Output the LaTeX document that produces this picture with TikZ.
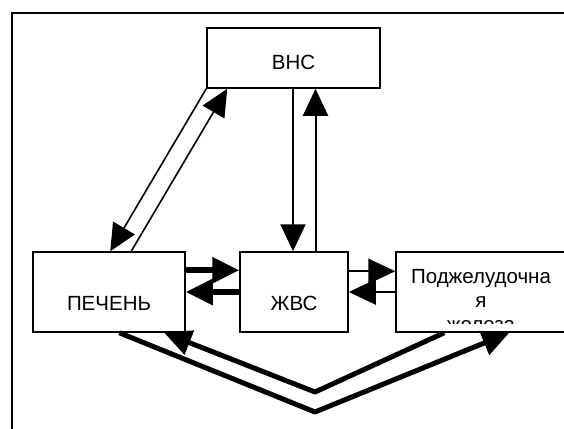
\documentclass[tikz,border=0pt]{standalone}
\usepackage{fontspec}
\setmainfont{Liberation Sans}
\usetikzlibrary{arrows.meta,calc}
\begin{document}
\begin{tikzpicture}[x=1pt,y=-1pt,
  box/.style={draw, line width=1.5pt, inner sep=0pt},
  lbl/.style={font=\fontsize{20.5}{24}\selectfont, inner sep=0pt, anchor=base},
  thinarrow/.style={line width=2pt, -{Triangle[length=27pt,width=25pt]}},
  fatarrow/.style={line width=6pt, -{Triangle[length=27pt,width=25pt]}},
  vline/.style={line width=5pt, line join=bevel, -{Triangle[length=27pt,width=25pt]}}]
\useasboundingbox (0,0) rectangle (564,428);
\draw[line width=1.5pt] (12,440) -- (12,13) -- (580,13);
% boxes
\node[box, minimum width=173pt, minimum height=60pt] (vns) at (293.5,58) {};
\node[box, minimum width=152pt, minimum height=80pt] (pech) at (109,292) {};
\node[box, minimum width=108pt, minimum height=80pt] (zhvs) at (294,292) {};
\node[box, minimum width=170pt, minimum height=80pt] (podzh) at (481,292) {};
% labels
\node[lbl] (tvns) at (293.5,70) {ВНС};
\node[lbl] (tpech) at (109,310) {ПЕЧЕНЬ};
\node[lbl] (tzhvs) at (294,310) {ЖВС};
\begin{scope}
\clip (397,253) rectangle (566,323.5);
\node[lbl] (tp1) at (481,283) {Поджелудочна};
\node[lbl] (tp2) at (481,307) {я};
\node[lbl] (tp3) at (481,331) {железа};
\end{scope}
% ВНС <-> ПЕЧЕНЬ
\draw[thinarrow, line width=1.6pt] (vns.south west) -- ($(pech.north west)+(78,0)$);
\draw[thinarrow, line width=1.6pt] ($(pech.north west)+(99,0)$) -- ($(vns.south west)+(21,0)$);
% ВНС <-> ЖВС
\coordinate (cd) at ($(vns.south)+(-0.5,0)$);
\draw[thinarrow] (cd) -- (cd |- zhvs.north);
\coordinate (cu) at ($(zhvs.north)+(21.5,0)$);
\draw[thinarrow] (cu) -- (cu |- vns.south);
% ПЕЧЕНЬ <-> ЖВС
\coordinate (ph) at ($(pech.north east)+(0,19)$);
\draw[fatarrow] (ph) -- (ph -| zhvs.west);
\draw[fatarrow] (zhvs.west) -- (zhvs.west -| pech.east);
% ЖВС <-> Поджелудочная
\coordinate (zh) at ($(zhvs.north east)+(0,20)$);
\draw[thinarrow] (zh) -- (zh -| podzh.west);
\draw[thinarrow] (podzh.west) -- (podzh.west -| zhvs.east);
% bottom V
\coordinate (v1) at (315,412);
\coordinate (v2) at (315,392);
\draw[vline] ($(pech.south west)+(87,0)$) -- (v1) -- ($(podzh.south west)+(114,0)$);
\draw[vline] ($(podzh.south west)+(49,0)$) -- (v2) -- ($(pech.south west)+(132,0)$);
\end{tikzpicture}
\end{document}
